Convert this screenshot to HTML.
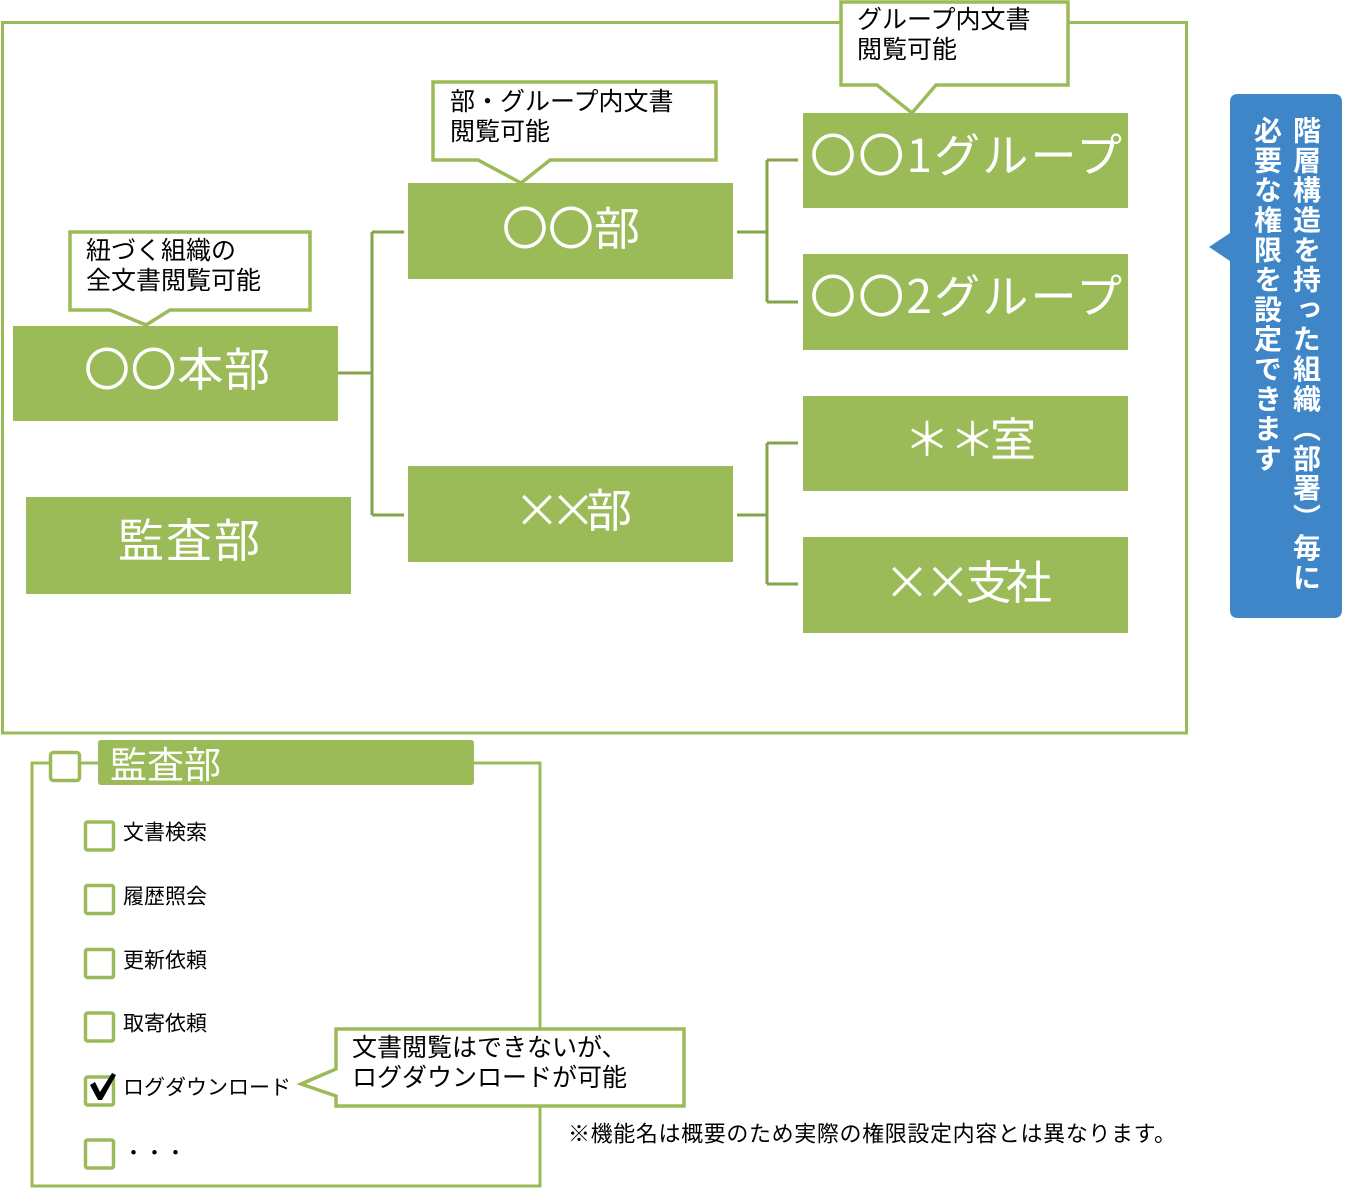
<!DOCTYPE html>
<html><head><meta charset="utf-8">
<style>
html,body{margin:0;padding:0;background:#fff;}
body{width:1350px;height:1189px;position:relative;overflow:hidden;}
svg{position:absolute;left:0;top:0;}
.vt{position:absolute;writing-mode:vertical-rl;font-family:"Noto Sans CJK JP","Liberation Sans",sans-serif;font-weight:bold;color:#fff;font-size:28px;letter-spacing:1.8px;line-height:39px;white-space:nowrap;}
</style></head>
<body>
<svg width="1350" height="1189" viewBox="0 0 1350 1189" xmlns="http://www.w3.org/2000/svg">
<!-- main frame -->
<rect x="2.5" y="22.5" width="1184" height="710.5" fill="none" stroke="#9BBB59" stroke-width="3"/>

<!-- connectors -->
<g stroke="#86A349" stroke-width="3" fill="none">
<path d="M338,373 H372 M372,232 V515 M372,232 H404 M372,515 H404"/>
<path d="M737,232 H767 M767,160 V302 M767,160 H798 M767,302 H798"/>
<path d="M737,515 H767 M767,443 V584 M767,443 H798 M767,584 H798"/>
</g>

<!-- nodes -->
<g fill="#9BBB59">
<rect x="13" y="326" width="325" height="95"/>
<rect x="408" y="183" width="325" height="96"/>
<rect x="408" y="466" width="325" height="96"/>
<rect x="26" y="497" width="325" height="97"/>
<rect x="803" y="113" width="325" height="95"/>
<rect x="803" y="254" width="325" height="96"/>
<rect x="803" y="396" width="325" height="95"/>
<rect x="803" y="537" width="325" height="96"/>
</g>
<g fill="#fff" font-family="'Noto Sans CJK JP','Liberation Sans',sans-serif" font-size="46" text-anchor="middle" dominant-baseline="central">
<text x="177" y="367" textLength="186" lengthAdjust="spacing">〇〇本部</text>
<text x="571" y="226" textLength="138" lengthAdjust="spacing">〇〇部</text>
<text x="573" y="508" textLength="118" lengthAdjust="spacing">××部</text>
<text x="189" y="538" textLength="142" lengthAdjust="spacing">監査部</text>
<text x="966" y="153" textLength="312" lengthAdjust="spacing">〇〇1グループ</text>
<text x="966" y="294" textLength="312" lengthAdjust="spacing">〇〇2グループ</text>
<text x="970" y="437" textLength="132" lengthAdjust="spacing">＊ ＊室</text>
<text x="968" y="580" textLength="168" lengthAdjust="spacing">××支社</text>
</g>

<!-- callouts -->
<g fill="#fff" stroke="#9BBB59" stroke-width="3.5" stroke-linejoin="miter">
<path d="M70,232 H310 V310 H170 L146,325 L110,310 H70 Z"/>
<path d="M433,82 H716 V160 H550 L521,183 L478,160 H433 Z"/>
<path d="M841,2 H1068 V85 H936 L912,113 L877,85 H841 Z"/>
</g>
<g fill="#000" font-family="'Liberation Sans','Noto Sans CJK JP',sans-serif" font-size="25" dominant-baseline="central">
<text x="86" y="251">紐づく組織の</text>
<text x="86" y="281">全文書閲覧可能</text>
<text x="450" y="102">部・グループ内文書</text>
<text x="450" y="132">閲覧可能</text>
<text x="857" y="20">グループ内文書</text>
<text x="857" y="50">閲覧可能</text>
</g>

<!-- blue callout -->
<path d="M1238,94 H1334 Q1342,94 1342,102 V610 Q1342,618 1334,618 H1238 Q1230,618 1230,610 V261 L1209,247 L1230,233 V102 Q1230,94 1238,94 Z" fill="#3E86C8"/>

<!-- bottom section -->
<rect x="32" y="763" width="508" height="423" fill="none" stroke="#9BBB59" stroke-width="3"/>
<rect x="98" y="740" width="376" height="45" rx="3" fill="#9BBB59"/>
<text x="110" y="762" fill="#fff" font-family="'Noto Sans CJK JP','Liberation Sans',sans-serif" font-size="37" dominant-baseline="central">監査部</text>
<rect x="50.5" y="752.5" width="29" height="28" rx="3" fill="#fff" stroke="#9BBB59" stroke-width="3.5"/>

<g fill="#fff" stroke="#9BBB59" stroke-width="3.5">
<rect x="85.5" y="822" width="28" height="28" rx="2"/>
<rect x="85.5" y="885.5" width="28" height="28" rx="2"/>
<rect x="85.5" y="949.5" width="28" height="28" rx="2"/>
<rect x="85.5" y="1013" width="28" height="28" rx="2"/>
<rect x="85.5" y="1077" width="28" height="28" rx="2"/>
<rect x="85.5" y="1140" width="28" height="28" rx="2"/>
</g>
<path d="M90,1085 L95,1082 L100,1092 L112,1073 L116,1075 L102,1100 L98,1100 Z" fill="#000"/>
<g fill="#000" font-family="'Liberation Sans','Noto Sans CJK JP',sans-serif" font-size="21" dominant-baseline="central">
<text x="123" y="833">文書検索</text>
<text x="123" y="897">履歴照会</text>
<text x="123" y="961">更新依頼</text>
<text x="123" y="1024">取寄依頼</text>
<text x="123" y="1088">ログダウンロード</text>
<text x="123" y="1152" font-family="'Noto Sans CJK JP',sans-serif">・・・</text>
</g>

<path d="M336,1029 H684 V1106 H336 V1096 L301,1084 L336,1069 Z" fill="#fff" stroke="#9BBB59" stroke-width="3.5"/>
<g fill="#000" font-family="'Liberation Sans','Noto Sans CJK JP',sans-serif" font-size="25" dominant-baseline="central">
<text x="352" y="1048">文書閲覧はできないが、</text>
<text x="352" y="1078">ログダウンロードが可能</text>
</g>
<text x="568" y="1134" fill="#000" font-family="'Liberation Sans','Noto Sans CJK JP',sans-serif" font-size="22" dominant-baseline="central" textLength="608" lengthAdjust="spacing">※機能名は概要のため実際の権限設定内容とは異なります。</text>
</svg>

<div class="vt" style="left:1248px;top:116px;">階層構造を持った組織（部署）毎に<br>必要な権限を設定できます</div>
</body></html>
